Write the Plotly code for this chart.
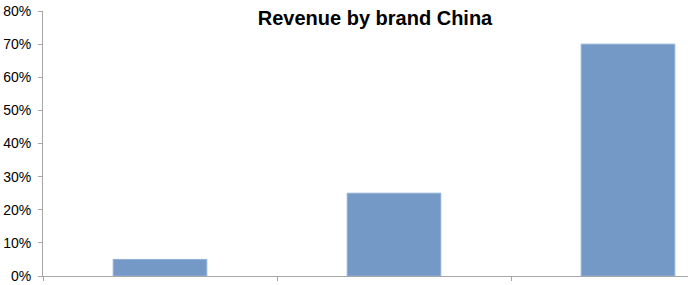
import plotly.graph_objects as go

categories = ["Brand 1", "Brand 2", "Brand 3"]
revenue_share = [0.05, 0.25, 0.70]
title_text = "Revenue by brand China"

fig = go.Figure()
fig.add_trace(go.Bar(
    x=categories, y=revenue_share, width=0.4,
    marker=dict(color="#7499c7", line=dict(color="#8fb0d6", width=1)),
))

W, H = 688, 285
fig.update_layout(
    width=W, height=H,
    margin=dict(l=43, r=0, t=11, b=9),
    paper_bgcolor="white", plot_bgcolor="white",
    showlegend=False,
    font=dict(family="Liberation Sans, Arial, sans-serif", size=14, color="black"),
    title=dict(text="<b>" + title_text + "</b>", font=dict(size=20, color="black"),
               x=375 / W, xanchor="center", xref="paper" if False else "container",
               y=1 - 18 / H, yanchor="middle", yref="container"),
    bargap=0.6,
)
fig.update_xaxes(
    type="category", range=[-0.5, 2.5 - (745 - 688) / 234],
    showticklabels=False, tickson="boundaries", ticks="outside", ticklen=4,
    tickcolor="#a6a6a6", showline=True, linecolor="#a6a6a6", linewidth=1,
    showgrid=False, zeroline=False,
)
fig.update_yaxes(
    range=[0, 0.8], dtick=0.1, tickformat=".0%", ticks="outside", ticklen=4,
    tickcolor="#a6a6a6", showline=True, linecolor="#a6a6a6", linewidth=1,
    showgrid=False, zeroline=False, ticklabelstandoff=4,
)
fig.write_html("out.html")
